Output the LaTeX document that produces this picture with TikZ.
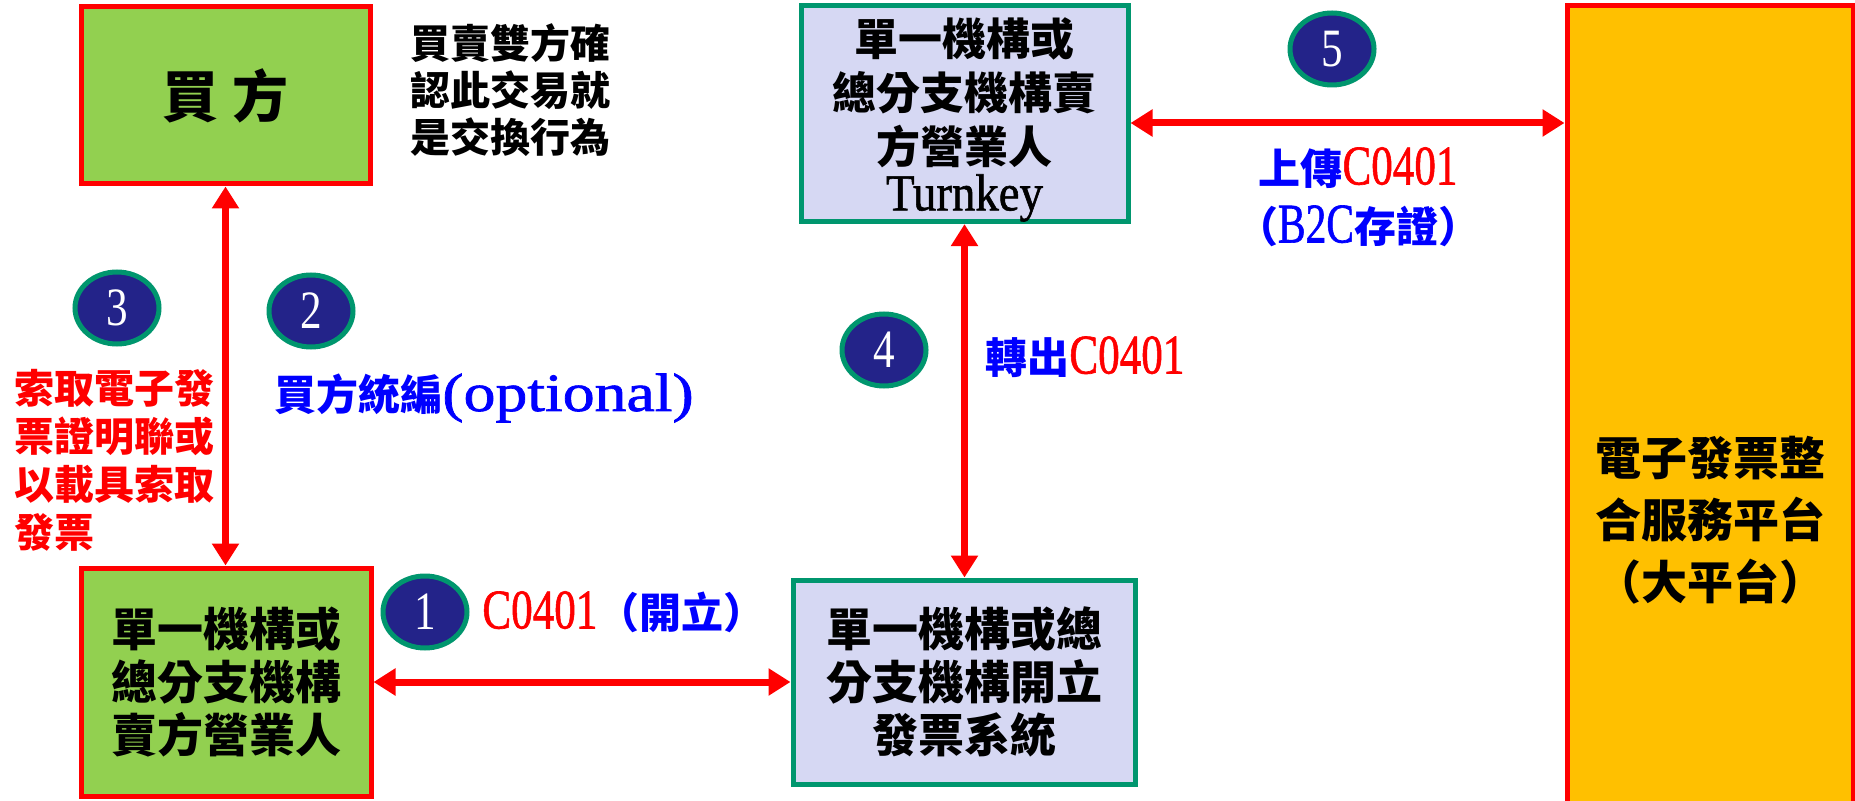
\documentclass[tikz,border=0pt]{standalone}
\usepackage{fontspec}
\usepackage{graphicx}
\usetikzlibrary{arrows.meta,calc,shapes.geometric}
\newfontfamily\cjk{Noto Sans CJK TC}
\newfontfamily\latf{Liberation Serif}[BoldFont={Liberation Serif}, BoldFeatures={FakeBold=1.2}]
\definecolor{boxgreen}{HTML}{92D050}
\definecolor{boxred}{HTML}{FF0000}
\definecolor{lavender}{RGB}{214,216,243}
\definecolor{tealline}{RGB}{0,150,110}
\definecolor{platorange}{HTML}{FFC000}
\definecolor{navy}{RGB}{35,35,137}
\definecolor{labblue}{HTML}{0000FF}
\newcommand\lt[3]{\scalebox{#1}[1]{\latf\bfseries\fontsize{#2}{#2}\selectfont #3}}
\begin{document}
\begin{tikzpicture}[x=0.5pt,y=-0.5pt,
  box/.style={draw, rectangle, line width=2.5pt, align=center, inner sep=0pt,
    font=\cjk\bfseries\fontsize{23}{26.5}\selectfont},
  redbox/.style={box, draw=boxred, fill=boxgreen},
  tealbox/.style={box, draw=tealline, fill=lavender},
  platbox/.style={box, draw=boxred, fill=platorange},
  num/.style={ellipse, draw=tealline, fill=navy, line width=2.5pt,
    minimum width=42pt, minimum height=36pt, inner sep=0pt, text=white,
    font=\latf\mdseries\fontsize{27}{27}\selectfont},
  biarrow/.style={draw=boxred, line width=3.5pt,
    {Triangle[length=11pt,width=13pt]}-{Triangle[length=11pt,width=13pt]}},
  lab/.style={inner sep=0pt, font=\cjk\bfseries\fontsize{21}{24}\selectfont},
  note/.style={inner sep=0pt, align=center, font=\cjk\bfseries\fontsize{20}{23.5}\selectfont}
]
\useasboundingbox[fill=white] (0,0) rectangle (1855,801);

% boxes
\node[redbox, minimum width=144.5pt, minimum height=88.5pt] (buyer) at (225.5,95.5)
  {\fontsize{28}{28}\selectfont 買\hspace{7pt}方};
\node[redbox, minimum width=145pt, minimum height=114pt] (seller) at (226,682)
  {單一機構或\\總分支機構\\賣方營業人};
\node[tealbox, minimum width=171pt, minimum height=102pt] (issue) at (964,682)
  {單一機構或總\\分支機構開立\\發票系統};
\node[tealbox, minimum width=163.5pt, minimum height=106.5pt,
  font=\cjk\bfseries\fontsize{22}{27}\selectfont] (turnkey) at (964.5,113.5)
  {\rule{0pt}{25pt}單一機構或\\總分支機構賣\\方營業人\\[-3.5pt]\lt{0.9}{26}{Turnkey}};
\node[platbox, minimum width=143pt, minimum height=514pt,
  font=\cjk\bfseries\fontsize{23}{31}\selectfont] (platform) at (1710,520)
  {電子發票整\\合服務平台\\（大平台）};

% note
\node[note] (agree) at (510,90) {買賣雙方確\\認此交易就\\是交換行為};

% connectors
\draw[biarrow] (buyer.south) -- (buyer.south |- seller.north);
\draw[biarrow] (seller.east) -- (seller.east -| issue.west);
\draw[biarrow] (turnkey.south) -- (turnkey.south |- issue.north);
\coordinate (a5) at ([yshift=-4.75pt]turnkey.east);
\draw[biarrow] (a5) -- (a5 -| platform.west);

% step markers
\node[num] (n1) at (425,612) {\scalebox{0.8}[1]{1}};
\node[num] (n2) at (311,311) {\scalebox{0.8}[1]{2}};
\node[num] (n3) at (117,308) {\scalebox{0.8}[1]{3}};
\node[num] (n4) at (884,350) {\scalebox{0.8}[1]{4}};
\node[num] (n5) at (1332,49) {\scalebox{0.8}[1]{5}};

% labels
\node[lab, text=labblue, anchor=west] (l1) at (482,612)
  {\textcolor{boxred}{\lt{0.77}{28}{C0401}}（開立）};
\node[lab, text=labblue, anchor=west] (l2) at (274,398)
  {買方統編\lt{1.18}{27}{(optional)}};
\node[lab, text=boxred, anchor=west, align=left,
  font=\cjk\bfseries\fontsize{20}{24}\selectfont] (l3) at (14,460)
  {索取電子發\\票證明聯或\\以載具索取\\發票};
\node[lab, text=labblue, anchor=west] (l4) at (985,357)
  {轉出\textcolor{boxred}{\lt{0.77}{28}{C0401}}};
\node[lab, text=labblue, align=center,
  font=\cjk\bfseries\fontsize{21}{29}\selectfont] (l5) at (1358,197)
  {上傳\textcolor{boxred}{\lt{0.77}{28}{C0401}}\\（\lt{0.74}{28}{B2C}存證）};
\end{tikzpicture}
\end{document}
